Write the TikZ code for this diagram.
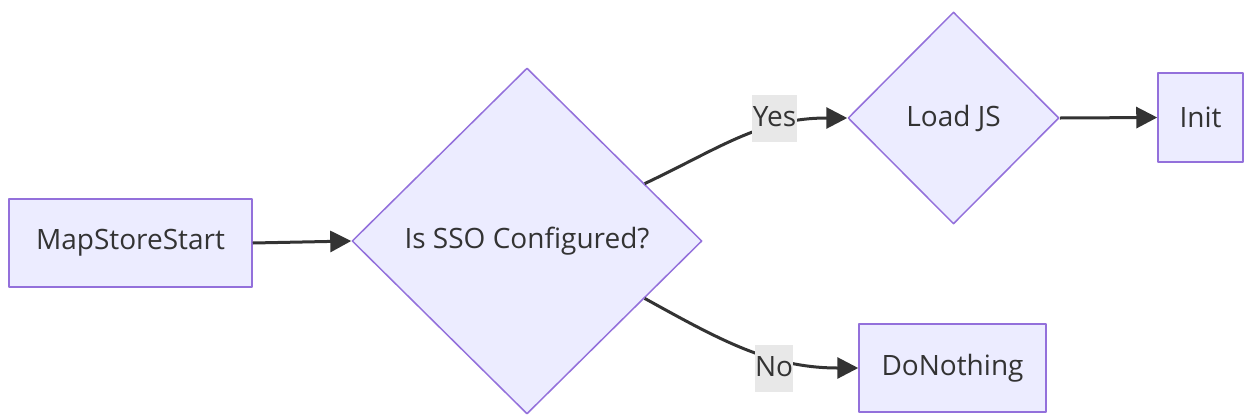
\documentclass[tikz,border=0pt]{standalone}
\usepackage{fontspec}
\setmainfont{Open Sans}
\usetikzlibrary{arrows.meta,shapes.geometric}
\definecolor{mmFill}{HTML}{ECECFF}
\definecolor{mmLine}{HTML}{9370DB}
\definecolor{mmInk}{HTML}{333333}
\definecolor{mmTag}{HTML}{E8E8E8}
\tikzset{
 chart/.style={font=\fontsize{28}{30}\selectfont,text=mmInk,line join=round},
 stepbox/.style={rectangle,draw=mmLine,fill=mmFill,line width=1.5pt,inner sep=0pt},
 choice/.style={diamond,aspect=1,draw=mmLine,fill=mmFill,line width=1.5pt,inner sep=0pt},
 flow/.style={draw=mmInk,line width=3pt,-{Triangle[length=21pt,width=21pt]}},
 tag/.style={rectangle,fill=mmTag,inner sep=0pt,minimum height=47pt,text=mmInk}
}
\begin{document}
\begin{tikzpicture}[chart,x=1pt,y=-1pt]
 \useasboundingbox (0,0) rectangle (1244,416);
 % boxes and decisions
 \node[stepbox,minimum width=243pt,minimum height=88pt] (start) at (130.5,243) {MapStoreStart};
 \node[choice,minimum width=350pt,minimum height=346pt] (sso) at (527,241) {Is SSO Configured?};
 \node[choice,minimum width=211pt,minimum height=212pt] (ljs) at (953.5,118) {Load JS};
 \node[stepbox,minimum width=85pt,minimum height=89pt] (init) at (1200.5,117.5) {Init};
 \node[stepbox,minimum width=187pt,minimum height=88pt] (none) at (952.5,368) {DoNothing};
 % connectors
 \draw[flow] (start.east) -- (sso.west);
 \draw[flow] (sso.26) .. controls (720,148) and (760,118) .. (ljs.west);
 \draw[flow] (sso.-26) .. controls (720,340) and (770,368) .. (none.west);
 \draw[flow] (ljs.east) -- (init.west);
 % edge labels
 \node[tag,minimum width=45pt] (yes) at (774.5,118.5) {\raisebox{4pt}{Yes}};
 \node[tag,minimum width=38pt] (no) at (774,368.5) {\raisebox{4pt}{No}};
\end{tikzpicture}
\end{document}
